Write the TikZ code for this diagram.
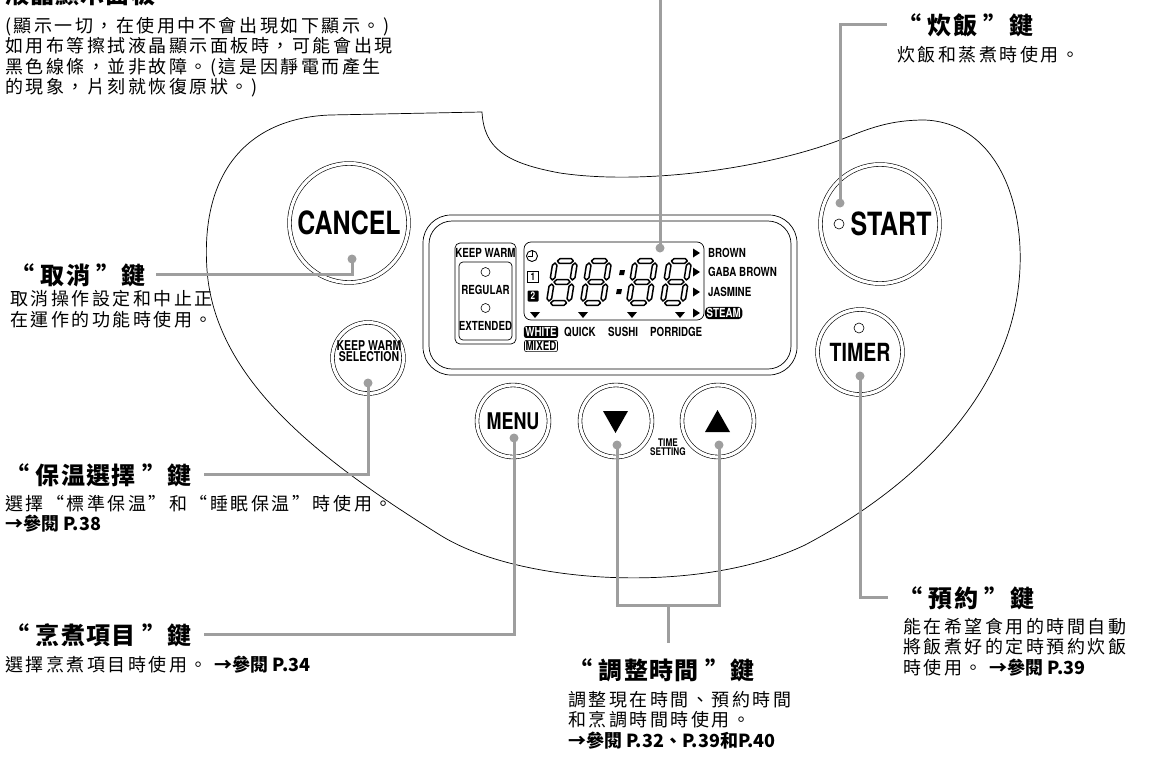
\documentclass[tikz,border=0pt]{standalone}
\usepackage{fontspec}
\setmainfont{TeX Gyre Heros}
\newfontfamily\zh{Noto Sans CJK TC}[LetterSpace=14]
\newfontfamily\zhhead{Noto Sans CJK TC}[LetterSpace=5]
\newfontfamily\zhplain{Noto Sans CJK TC}
\newfontfamily\cond{TeX Gyre Heros}[FakeStretch=0.78]
\newcommand{\pref}[1]{{\zhplain\bfseries #1}}
\newcommand{\btnsize}[1]{\cond\bfseries\fontsize{#1}{#1}\selectfont}

\tikzset{
  panel/.style={draw, line width=0.7pt},
  btn/.style={circle, draw, line width=0.6pt, double, double distance=3.2pt, inner sep=0pt},
  lead/.style={draw=black!38, line width=3pt},
  knob/.style={circle, fill=black!38, inner sep=0pt, minimum size=9pt},
  keyhead/.style={anchor=base west, inner sep=0pt, font=\zhhead\bfseries\fontsize{24}{28}\selectfont},
  % multi-line notes sit on the baseline of their last line
  note/.style={anchor=base west, inner sep=0pt, align=left, font=\zh\fontsize{18}{20.5}\selectfont},
  lcd/.style={inner sep=0pt, font=\btnsize{12.5}},
  seg/.style={draw, line width=1.5pt, line join=round},
  digit/.pic={
    \begin{scope}[xslant=0.16]
      \foreach \v in {-21,0,21}
        \draw[seg] (-8,\v) -- (-5.7,\v-2.3) -- (5.7,\v-2.3) -- (8,\v) -- (5.7,\v+2.3) -- (-5.7,\v+2.3) -- cycle;
      \foreach \h in {-10,10}
        \foreach \v in {-10.5,10.5}
          \draw[seg] (\h,\v-8.5) -- (\h+2.3,\v-6.2) -- (\h+2.3,\v+6.2) -- (\h,\v+8.5) -- (\h-2.3,\v+6.2) -- (\h-2.3,\v-6.2) -- cycle;
    \end{scope}
  }
}

\begin{document}
\begin{tikzpicture}[x=1pt, y=-1pt]
  \clip (0,0) rectangle (1151,763);

  % outline of the control panel
  \draw[panel] (330,115) -- (482,112)
    .. controls (484,148) and (505,163) .. (560,173)
    .. controls (640,185) and (760,170) .. (840,140)
    .. controls (870,128) and (890,120) .. (925,120)
    .. controls (1015,124) and (1040,250) .. (1005,342)
    .. controls (975,422) and (905,492) .. (805,545)
    .. controls (700,595) and (520,585) .. (440,535)
    .. controls (320,460) and (215,380) .. (207,270)
    .. controls (200,170) and (250,118) .. (330,115) -- cycle;

  % display window
  \draw[panel, rounded corners=28pt] (423,215) rectangle (797,375);
  \draw[panel, rounded corners=23pt] (429,221) rectangle (791,369);

  % keep warm mode box
  \draw[panel, rounded corners=5pt] (455,243) rectangle (516,344);
  \draw[panel, rounded corners=4pt] (459,262) rectangle (512,340);
  \node[lcd] (kwtop) at (485.5,253) {KEEP WARM};
  \node[lcd] (kwreg) at (485.5,290) {REGULAR};
  \node[lcd] (kwext) at (485.5,326) {EXTENDED};
  \draw[line width=0.6pt] (485.5,272) circle (4.5pt);
  \draw[line width=0.6pt] (485.5,308) circle (4.5pt);

  % clock digits
  \draw[panel, rounded corners=7pt] (524,242) rectangle (704,320);
  \draw[line width=0.9pt] (532,256) circle (5.5pt);
  \draw[line width=0.9pt] (532,250) -- (532,256) -- (528,256);
  \node[draw, line width=0.7pt, inner sep=0pt, minimum size=11pt, font=\btnsize{10.5}] (one) at (533,277) {1};
  \node[fill, rounded corners=1pt, inner sep=0pt, minimum size=11pt, text=white, font=\btnsize{10.5}] (two) at (533,296) {2};
  \pic at (562,282) {digit};
  \pic at (596,282) {digit};
  \pic at (642,282) {digit};
  \pic at (676,282) {digit};
  \fill (620,270) -- (625,270) -- (624,275) -- (619,275) -- cycle;
  \fill (617,289) -- (622,289) -- (621,294) -- (616,294) -- cycle;
  \foreach \x in {535,583,632,680}
    \fill (\x-5,312) -- (\x+5,312) -- (\x,318) -- cycle;
  \foreach \y in {253,272,292,313}
    \fill (693,\y-4.5) -- (700,\y) -- (693,\y+4.5) -- cycle;

  % menu names
  \node[lcd, anchor=west] (brown) at (708,253) {BROWN};
  \node[lcd, anchor=west] (gaba) at (708,272) {GABA BROWN};
  \node[lcd, anchor=west] (jasmine) at (708,292) {JASMINE};
  \node[lcd, anchor=west, fill, text=white, rounded corners=4pt, inner sep=1.5pt] (steam) at (705,313) {STEAM};
  \node[lcd, fill, text=white, rounded corners=2pt, inner sep=1.3pt] (white) at (541,332) {WHITE};
  \node[lcd, draw, line width=0.6pt, rounded corners=2pt, inner sep=1.1pt] (mixed) at (541,346) {MIXED};
  \node[lcd, anchor=west] (quick) at (564,332) {QUICK};
  \node[lcd, anchor=west] (sushi) at (608,332) {SUSHI};
  \node[lcd, anchor=west] (porridge) at (650,332) {PORRIDGE};

  % buttons
  \node[btn, minimum size=119pt, font=\btnsize{32}] (cancel) at (349,223) {CANCEL};
  \node[btn, minimum size=71pt] (kwsel) at (368,358) {};
  \node[align=center, inner sep=0pt, font=\btnsize{13.5}] (kwseltxt) at (369,351) {KEEP WARM\\[-2pt]SELECTION};
  \node[btn, minimum size=72pt, font=\btnsize{23}] (menu) at (513,421) {MENU};
  \node[btn, minimum size=72pt] (down) at (616,421) {};
  \fill (603,411) -- (628,411) -- (615.5,433) -- cycle;
  \node[btn, minimum size=72pt] (up) at (718,421) {};
  \fill (705,432) -- (730,432) -- (717.5,410) -- cycle;
  \node[align=center, inner sep=0pt, font=\btnsize{10.5}] (timeset) at (668,447) {TIME\\[-2pt]SETTING};
  \node[btn, minimum size=119pt] (start) at (880,224) {};
  \node[inner sep=0pt, font=\btnsize{32}] (starttxt) at (891,224) {START};
  \draw[line width=0.6pt] (839,224) circle (5pt);
  \node[btn, minimum size=85pt, font=\btnsize{25}] (timer) at (860,352) {TIMER};
  \draw[line width=0.6pt] (859,328) circle (5pt);

  % key names and notes
  \node[keyhead] (tlcd) at (5,3) {液晶顯示面板};
  \node[note] (nlcd) at (5,93.5) {(顯示一切，在使用中不會出現如下顯示。)\\如用布等擦拭液晶顯示面板時，可能會出現\\黑色線條，並非故障。(這是因靜電而產生\\的現象，片刻就恢復原狀。)};
  \node[keyhead] (tstart) at (897,34) {“ 炊飯 ”鍵};
  \node[note] (nstart) at (897,61) {炊飯和蒸煮時使用。};
  \node[keyhead] (tcancel) at (10,284) {“ 取消 ”鍵};
  \node[note] (ncancel) at (10,326) {取消操作設定和中止正\\在運作的功能時使用。};
  \node[keyhead] (tkw) at (5,484) {“ 保温選擇 ”鍵};
  \node[note] (nkw) at (5,530.5) {選擇“標準保温”和“睡眠保温”時使用。\\\pref{→參閱 P.38}};
  \node[keyhead] (tmenu) at (5,644) {“ 烹煮項目 ”鍵};
  \node[note] (nmenu) at (5,671) {選擇烹煮項目時使用。 \pref{→參閱 P.34}};
  \node[keyhead] (ttime) at (568,679) {“ 調整時間 ”鍵};
  \node[note] (ntime) at (568,747) {調整現在時間、預約時間\\和烹調時間時使用。\\\pref{→參閱 P.32、P.39和P.40}};
  \node[keyhead] (ttimer) at (898,607) {“ 預約 ”鍵};
  \node[note] (ntimer) at (903,674) {能在希望食用的時間自動\\將飯煮好的定時預約炊飯\\時使用。 \pref{→參閱 P.39}};

  % leader lines
  \node[knob] (dlcd) at (660,248) {};
  \coordinate (lcdtop) at (660,-4);
  \draw[lead] (dlcd.center) -- (lcdtop);
  \node[knob] (dstart) at (840,203) {};
  \draw[lead] (dstart.center) |- ([xshift=-10pt]tstart.west);
  \node[knob] (dcancel) at (352,259) {};
  \draw[lead] (dcancel.center) |- ([xshift=10pt]tcancel.east);
  \node[knob] (dkw) at (368,383) {};
  \draw[lead] (dkw.center) |- ([xshift=12pt]tkw.east);
  \node[knob] (dmenu) at (514,438) {};
  \draw[lead] (dmenu.center) |- ([xshift=12pt]tmenu.east);
  \node[knob] (ddown) at (617,445) {};
  \node[knob] (dup) at (719,445) {};
  \coordinate (tjoin) at (668,605);
  \coordinate (tend) at (668,643);
  \draw[lead] (ddown.center) |- (dup.center |- tjoin) -- (dup.center);
  \draw[lead] (tjoin) -- (tend);
  \node[knob] (dtimer) at (860,376) {};
  \draw[lead] (dtimer.center) |- ([xshift=-10pt]ttimer.west);
\end{tikzpicture}
\end{document}
